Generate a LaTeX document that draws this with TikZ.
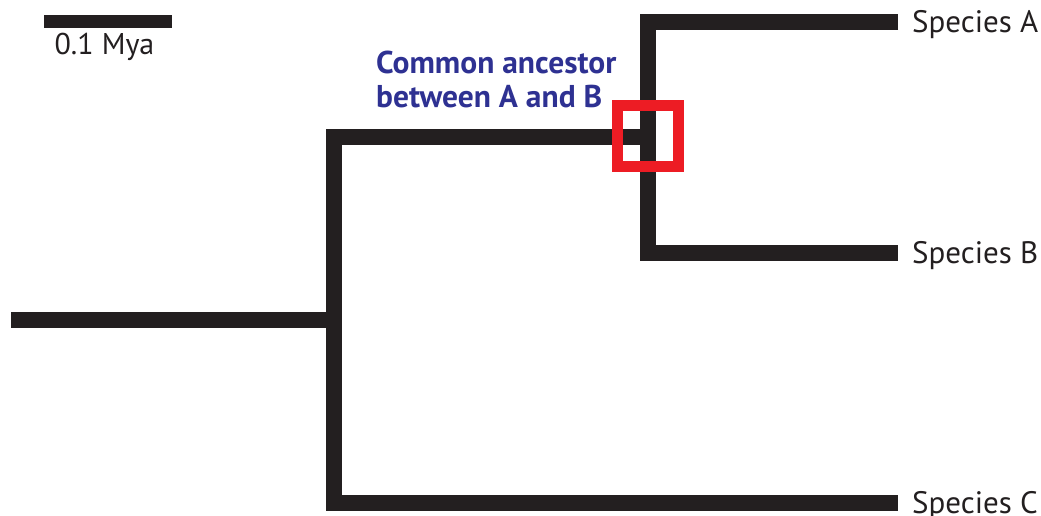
\documentclass[tikz,border=0pt]{standalone}
\usepackage{fontspec}
\setmainfont{PT Sans}
\definecolor{branch}{HTML}{231F20}
\definecolor{note}{HTML}{2E3192}
\definecolor{mark}{HTML}{ED1C24}
\begin{document}
\begin{tikzpicture}[x=1pt,y=-1pt,
  limb/.style={draw=branch,line width=16pt,line cap=butt,line join=miter},
  taxon/.style={anchor=base west,inner sep=0pt,font=\fontsize{31}{36}\selectfont,text=branch}]
\useasboundingbox (0,0) rectangle (1041,515);

% scale bar
\coordinate (sbL) at (44,21.5);
\coordinate (sbR) at (172,21.5);
\draw[draw=branch,line width=13pt] (sbL) -- (sbR);
\node[anchor=base,inner sep=0pt,font=\fontsize{30}{36}\selectfont,text=branch] (sbtext) at (104.5,54) {0.1 Mya};

% tree nodes
\coordinate (root) at (11,320);
\coordinate (n1) at (334,320);
\coordinate (n1top) at (334,137);
\coordinate (n1bot) at (334,503);
\coordinate (n2) at (648,137);
\coordinate (n2top) at (648,22);
\coordinate (n2bot) at (648,253);
\coordinate (tA) at (898,22);
\coordinate (tB) at (898,253);
\coordinate (tC) at (898,503);

% branches
\draw[limb] (root) -- (n1);
\draw[limb] (n2) -- (n1top) -- (n1bot) -- (tC);
\draw[limb] (tA) -- (n2top) -- (n2bot) -- (tB);

% tip labels
\node[taxon] (labA) at (912,32.5) {Species A};
\node[taxon] (labB) at (912,263.5) {Species B};
\node[taxon] (labC) at (912,513.5) {Species C};

% highlighted ancestor
\node[draw=mark,line width=11pt,minimum width=61pt,minimum height=60.5pt,inner sep=0pt] (focus) at (648,135.75) {};
\node[anchor=north west,inner sep=0pt,align=left,text=note,font=\bfseries\fontsize{31.5}{34}\selectfont] (anc) at (376,51) {Common ancestor\\between A and B};
\end{tikzpicture}
\end{document}
